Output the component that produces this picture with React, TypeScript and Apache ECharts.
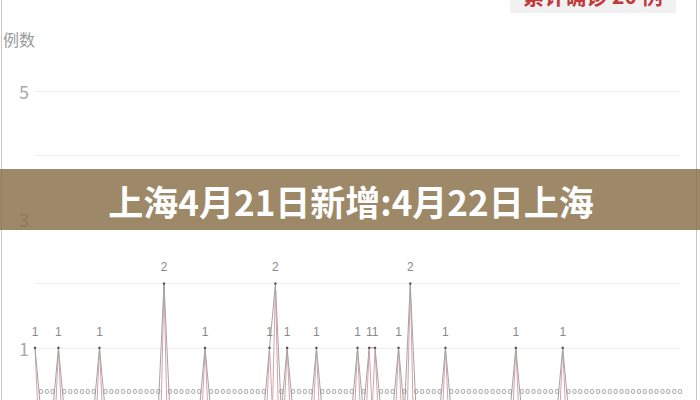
import { useEffect, useRef } from "react"
import * as echarts from "echarts"

// daily new cases, one entry per day (111 days shown)
const dailyCases: number[] = [
  1, 0, 0, 0, 1, 0, 0, 0, 0, 0, 0, 1, 0, 0, 0, 0, 0, 0, 0, 0,
  0, 0, 2, 0, 0, 0, 0, 0, 0, 1, 0, 0, 0, 0, 0, 0, 0, 0, 0, 0,
  1, 2, 0, 1, 0, 0, 0, 0, 1, 0, 0, 0, 0, 0, 0, 1, 0, 1, 1, 0,
  0, 0, 1, 0, 2, 0, 0, 0, 0, 0, 1, 0, 0, 0, 0, 0, 0, 0, 0, 0,
  0, 0, 1, 0, 0, 0, 0, 0, 0, 0, 1, 0, 0, 0, 0, 0, 0, 0, 0, 0,
  0, 0, 0, 0, 0, 0, 0, 0, 0, 0, 0,
]

const days: string[] = dailyCases.map((_, i) => `D${i + 1}`)

// finer axis used by the thin red trace
const halfDays: string[] = dailyCases.flatMap((_, i) =>
  i < dailyCases.length - 1 ? [`D${i + 1}`, `D${i + 1}.5`] : [`D${i + 1}`]
)
const redTrace: number[] = dailyCases.flatMap((v, i) =>
  i < dailyCases.length - 1 ? [v, 0] : [v]
)

const yTicks = [0, 1, 2, 3, 4, 5]
const yName = "例数"
const totalText = "累计确诊 20 例"
const bannerText = "上海4月21日新增:4月22日上海"

export default function App() {
  const chartRef = useRef<HTMLDivElement>(null)

  useEffect(() => {
    if (!chartRef.current) return
    const chart = echarts.init(chartRef.current, undefined, { renderer: "svg" })

    const options: echarts.EChartsOption = {
      animation: false,
      backgroundColor: "#ffffff",
      // chart is taller than the visible 400px, so the zero line falls below the crop
      grid: { left: 31, right: 20, top: 91, bottom: 8 },
      xAxis: [
        {
          type: "category",
          data: days,
          boundaryGap: false,
          axisLine: { show: false },
          axisTick: { show: false },
          axisLabel: { show: false },
        },
        {
          type: "category",
          data: halfDays,
          boundaryGap: false,
          show: false,
        },
      ],
      yAxis: {
        type: "value",
        min: yTicks[0],
        max: yTicks[yTicks.length - 1],
        interval: 1,
        name: yName,
        nameLocation: "end",
        nameGap: 44,
        nameTextStyle: {
          color: "#9a9a9a",
          fontSize: 16,
          align: "right",
          fontFamily: "Noto Sans CJK SC",
        },
        axisLine: { show: false },
        axisTick: { show: false },
        axisLabel: {
          color: "#aaaaaa",
          fontSize: 18,
          margin: 6,
          fontFamily: "Noto Sans CJK SC",
          formatter: (v: number) => (v % 2 === 1 ? String(v) : ""),
        },
        splitLine: { lineStyle: { color: "#eeeeee", width: 1 } },
      },
      series: [
        {
          type: "line",
          xAxisIndex: 1,
          data: redTrace,
          symbol: "none",
          lineStyle: { color: "#d7a3aa", width: 1 },
          z: 2,
        },
        {
          type: "line",
          xAxisIndex: 0,
          data: dailyCases,
          symbol: "circle",
          symbolSize: 2.5,
          itemStyle: { color: "#555555" },
          lineStyle: { color: "#a4a4a4", width: 1 },
          label: {
            show: true,
            position: "top",
            distance: 9,
            color: "#888888",
            fontSize: 12,
            fontFamily: "Liberation Sans",
            formatter: (p: any) => (p.value === 0 ? "{z|0}" : String(p.value)),
            rich: {
              z: {
                fontSize: 8,
                color: "#888888",
                fontFamily: "Liberation Sans",
                padding: [0, 0, 6, 0],
              },
            },
          },
          z: 3,
        },
      ],
      graphic: [
        {
          type: "line",
          shape: { x1: 1.5, y1: 0, x2: 1.5, y2: 420 },
          style: { stroke: "#c8c8c8", lineWidth: 1 },
          z: 50,
        },
        {
          type: "line",
          shape: { x1: 696.5, y1: 0, x2: 696.5, y2: 420 },
          style: { stroke: "#c8c8c8", lineWidth: 1 },
          z: 50,
        },
        {
          type: "rect",
          shape: { x: 510, y: -20, width: 166, height: 33 },
          style: { fill: "#f1f1f1" },
          z: 50,
        },
        {
          type: "text",
          x: 593,
          y: -5,
          style: {
            text: totalText,
            fill: "#c0393b",
            font: "bold 21px 'Noto Sans CJK SC'",
            textAlign: "center",
            textVerticalAlign: "middle",
          },
          z: 51,
        },
        {
          type: "rect",
          shape: { x: 0, y: 169, width: 700, height: 61 },
          style: { fill: "rgba(133,106,66,0.8)" },
          z: 100,
        },
        {
          type: "text",
          x: 351,
          y: 200,
          style: {
            text: bannerText,
            fill: "#ffffff",
            font: "bold 35px 'Noto Sans CJK SC'",
            textAlign: "center",
            textVerticalAlign: "middle",
          },
          z: 101,
        },
      ],
    }

    chart.setOption(options)

    return () => {
      chart.dispose()
    }
  }, [])

  return (
    <div
      style={{
        position: "fixed",
        left: 0,
        top: 0,
        width: 700,
        height: 400,
        overflow: "hidden",
      }}
    >
      <div ref={chartRef} style={{ width: 700, height: 420 }} />
    </div>
  )
}
